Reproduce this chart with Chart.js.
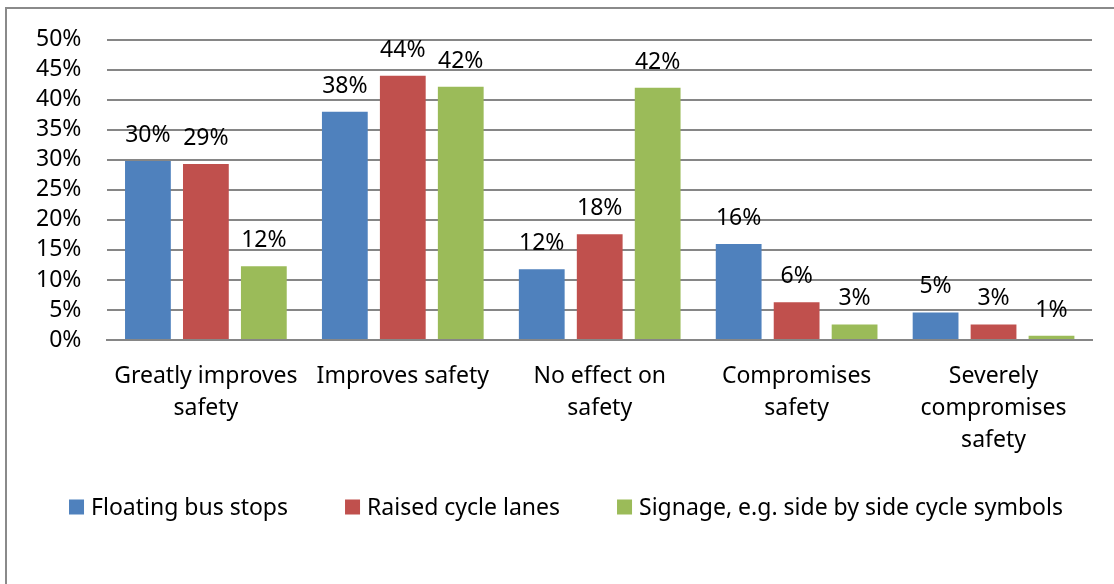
<!DOCTYPE html>
<html>
<head>
<meta charset="utf-8">
<script src="https://cdn.jsdelivr.net/npm/chart.js@4.4.1/dist/chart.umd.min.js"></script>
<style>
  html, body { margin: 0; padding: 0; background: #fff; }
  #wrap { position: relative; width: 1114px; height: 584px; overflow: hidden; }
  #frame { position: absolute; left: 5px; top: 7px; right: -4px; bottom: -4px;
           border-left: 2px solid #8a8a8a; border-top: 2px solid #8a8a8a; }
  canvas { position: absolute; left: 0; top: 0; }
</style>
</head>
<body>
<div id="wrap">
  <div id="frame"></div>
  <canvas id="myBarChart" width="1114" height="584"></canvas>
</div>
<script>
// categories and series, percent values
const categories = [
  ["Greatly improves", "safety"],
  "Improves safety",
  ["No effect on", "safety"],
  ["Compromises", "safety"],
  ["Severely", "compromises", "safety"]
];
const floatingBusStops = [29.8, 38.0, 11.8, 16.0, 4.6];
const raisedCycleLanes = [29.3, 44.0, 17.6, 6.3, 2.6];
const signage = [12.3, 42.2, 42.0, 2.6, 0.7];
const yTicks = [0, 5, 10, 15, 20, 25, 30, 35, 40, 45, 50];

const font = "'Noto Sans', 'DejaVu Sans', sans-serif";

// draws the rounded percentage above each bar
const barLabels = {
  id: "barLabels",
  afterDatasetsDraw(chart) {
    const ctx = chart.ctx;
    ctx.save();
    ctx.font = "23px " + font;
    ctx.fillStyle = "#000";
    ctx.textAlign = "center";
    ctx.textBaseline = "alphabetic";
    chart.data.datasets.forEach((ds, i) => {
      chart.getDatasetMeta(i).data.forEach((bar, j) => {
        ctx.fillText(Math.round(ds.data[j]) + "%", bar.x, bar.y - 19);
      });
    });
    ctx.restore();
  }
};

// one-row legend like the Excel one: wide gaps between items, tight box-to-text gap
const rowLegend = {
  id: "rowLegend",
  afterDraw(chart) {
    const ctx = chart.ctx;
    const box = 15, textGap = 7, itemGap = 57, centerX = 566, centerY = 507;
    ctx.save();
    ctx.font = "23px " + font;
    ctx.textBaseline = "middle";
    const items = chart.data.datasets.map(ds => ({
      label: ds.label, color: ds.backgroundColor, w: ctx.measureText(ds.label).width
    }));
    let total = 0;
    items.forEach((it, i) => { total += box + textGap + it.w + (i ? itemGap : 0); });
    let x = centerX - total / 2;
    items.forEach(it => {
      ctx.fillStyle = it.color;
      ctx.fillRect(x, centerY - box / 2, box, box);
      ctx.fillStyle = "#000";
      ctx.fillText(it.label, x + box + textGap, centerY + 1);
      x += box + textGap + it.w + itemGap;
    });
    ctx.restore();
  }
};

const bar = document.getElementById("myBarChart");
new Chart(bar, {
  type: "bar",
  data: {
    labels: categories,
    datasets: [
      { label: "Floating bus stops", data: floatingBusStops, backgroundColor: "#4F81BD" },
      { label: "Raised cycle lanes", data: raisedCycleLanes, backgroundColor: "#C0504D" },
      { label: "Signage, e.g. side by side cycle symbols", data: signage, backgroundColor: "#9BBB59" }
    ]
  },
  options: {
    responsive: false,
    animation: false,
    categoryPercentage: 0.883,
    barPercentage: 0.79,
    layout: { padding: { left: 10, right: 22, top: 26, bottom: 149 } },
    plugins: {
      tooltip: { enabled: false },
      legend: { display: false }
    },
    scales: {
      x: {
        // short axis box so the plot sits low; labels are drawn unclipped below it
        afterFit(axis) {
          axis.height = 95;
          axis._computeLabelArea = () => undefined;
        },
        grid: { display: false, drawTicks: false },
        border: { color: "#868686", width: 2 },
        ticks: {
          color: "#000",
          padding: 20,
          maxRotation: 0,
          autoSkip: false,
          font: { family: font, size: 23, lineHeight: 1.4 }
        }
      },
      y: {
        min: 0,
        max: 50,
        afterBuildTicks(axis) { axis.ticks = yTicks.map(v => ({ value: v })); },
        grid: { color: "#868686", lineWidth: 2, drawTicks: false },
        border: { display: false },
        ticks: {
          color: "#000",
          padding: 26,
          autoSkip: false,
          font: { family: font, size: 23 },
          callback: v => v + "%"
        }
      }
    }
  },
  plugins: [barLabels, rowLegend]
});
</script>
</body>
</html>
